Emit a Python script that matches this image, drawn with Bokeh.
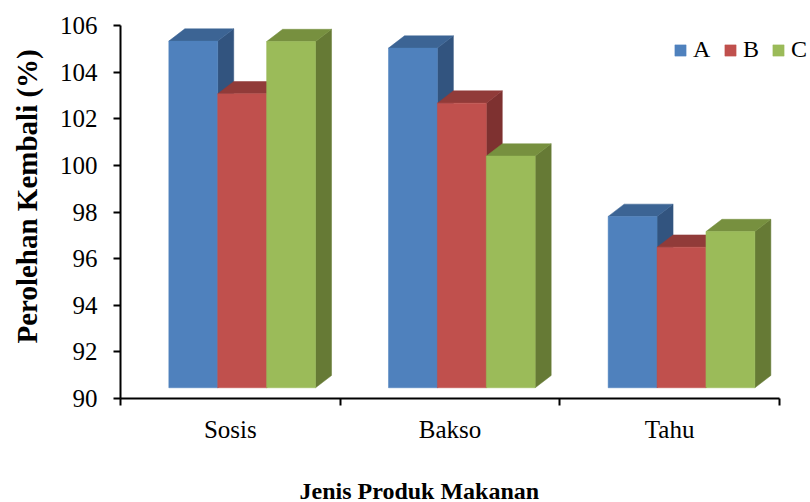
import math
from bokeh.plotting import figure
from bokeh.models import Range1d, FixedTicker, Legend, LegendItem, ColumnDataSource, Label
from bokeh.embed import file_html
from bokeh.resources import INLINE

# ---- data ----
categories = ["Sosis", "Bakso", "Tahu"]
series_names = ["A", "B", "C"]
values_A = [105.33, 105.03, 97.81]
values_B = [103.07, 102.67, 96.49]
values_C = [105.31, 100.40, 97.16]
y_ticks = [90, 92, 94, 96, 98, 100, 102, 104, 106]
y_min, y_max = 90, 106
x_title_text = "Jenis Produk Makanan"
y_title_text = "Perolehan Kembali (%)"

# ---- layout / style ----
W, H = 810, 502
FONT = "Liberation Serif"
front_colors = ["#4F81BD", "#C0504D", "#9BBB59"]
top_colors = ["#3C6494", "#913B39", "#77903F"]
side_colors = ["#32547F", "#7E3130", "#667A35"]

n = len(categories)
ax_left, ax_right, ax_top, ax_bottom = 120, 779, 25, 398   # pixel box of the axes
px_x = (ax_right - ax_left) / n
px_y = (ax_bottom - ax_top) / (y_max - y_min)

floor = 90.46          # visual floor of the 3D columns
gap_left = 0.22        # category-units before first column
bar_w = 0.2226         # column width in category units
dx = 16 / px_x         # depth offset (x)
dy = 12.3 / px_y       # depth offset (y)

p = figure(width=W, height=H, output_backend="svg", toolbar_location=None,
           x_range=Range1d(-ax_left / px_x, n + (W - ax_right) / px_x),
           y_range=Range1d(y_min - (H - ax_bottom) / px_y, y_max + ax_top / px_y),
           min_border_left=0, min_border_right=0, min_border_top=0, min_border_bottom=0)
p.outline_line_color = None
p.xgrid.visible = False
p.ygrid.visible = False
p.background_fill_color = "white"
p.border_fill_color = "white"

legend_items = []
all_values = [values_A, values_B, values_C]
for s, vals in enumerate(all_values):
    lefts = [i + gap_left + s * bar_w for i in range(n)]
    rights = [l + bar_w for l in lefts]
    side_xs = [[r, r + dx, r + dx, r] for r in rights]
    side_ys = [[floor, floor + dy, v + dy, v] for v in vals]
    top_xs = [[l, l + dx, r + dx, r] for l, r in zip(lefts, rights)]
    top_ys = [[v, v + dy, v + dy, v] for v in vals]
    p.patches(side_xs, side_ys, fill_color=side_colors[s], line_color=side_colors[s], line_width=0.5)
    p.patches(top_xs, top_ys, fill_color=top_colors[s], line_color=top_colors[s], line_width=0.5)
    src = ColumnDataSource(dict(left=lefts, right=rights, top=vals, bottom=[floor] * len(vals)))
    r = p.quad(left="left", right="right", top="top", bottom="bottom", source=src,
               fill_color=front_colors[s], line_color=front_colors[s], line_width=0.5)
    legend_items.append(LegendItem(label=series_names[s], renderers=[r]))

# axes (drawn inside the frame at fixed locations)
xa = p.xaxis[0]
xa.fixed_location = y_min
xa.bounds = (0, n)
xa.ticker = FixedTicker(ticks=[i + 0.5 for i in range(n)],
                        minor_ticks=list(range(n + 1)))
xa.major_label_overrides = {i + 0.5: c for i, c in enumerate(categories)}
xa.major_tick_out = 0
xa.major_tick_in = 0
xa.minor_tick_out = 7
xa.minor_tick_in = 0
xa.minor_tick_line_color = "black"
xa.minor_tick_line_width = 2
xa.axis_line_width = 2
xa.axis_line_color = "black"
xa.major_label_text_font = FONT
xa.major_label_text_font_size = "25px"
xa.major_label_text_color = "black"
xa.major_label_standoff = 10

ya = p.yaxis[0]
ya.fixed_location = 0
ya.bounds = (y_min, y_max)
ya.ticker = FixedTicker(ticks=y_ticks)
ya.major_tick_out = 7
ya.major_tick_in = 0
ya.minor_tick_out = 0
ya.minor_tick_in = 0
ya.major_tick_line_width = 2
ya.axis_line_width = 2
ya.axis_line_color = "black"
ya.major_label_text_font = FONT
ya.major_label_text_font_size = "25px"
ya.major_label_text_color = "black"
ya.major_label_standoff = 16

# axis titles (screen units from the bottom-left corner)
p.add_layout(Label(x=299, y=12, x_units="screen", y_units="screen", text=x_title_text,
                   text_font=FONT, text_font_style="bold", text_font_size="24px",
                   text_color="black", text_align="left", text_baseline="alphabetic"))
p.add_layout(Label(x=26, y=H - 343, x_units="screen", y_units="screen", text=y_title_text,
                   angle=math.pi / 2, text_font=FONT, text_font_style="bold",
                   text_font_size="29px", text_color="black", text_align="left",
                   text_baseline="alphabetic"))

legend_x = [673, 723, 771]
for item, lx in zip(legend_items, legend_x):
    lg = Legend(items=[item], orientation="horizontal", location=(lx, H - 63),
                glyph_width=14, glyph_height=14, label_standoff=6, spacing=0,
                padding=0, margin=0, border_line_color=None, background_fill_alpha=0,
                label_text_font=FONT, label_text_font_size="24px", label_text_color="black")
    p.add_layout(lg, "center")

open("out.html", "w").write(file_html(p, INLINE))
